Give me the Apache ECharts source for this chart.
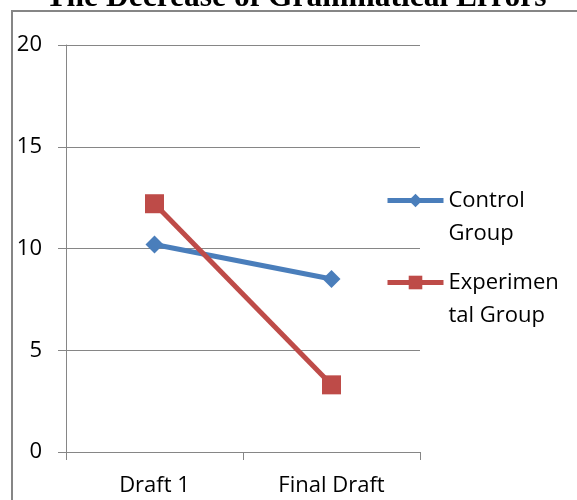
<!DOCTYPE html>
<html>
<head>
<meta charset="utf-8">
<script src="https://cdn.jsdelivr.net/npm/echarts@6/dist/echarts.min.js"></script>
<style>
html,body{margin:0;padding:0;background:#fff;}
#chart{width:577px;height:500px;}
</style>
</head>
<body>
<div id="chart"></div>
<script>
var titleText = 'The Decrease of Grammatical Errors';
var categories = ['Draft 1', 'Final Draft'];
var controlGroup = [10.2, 8.5];
var experimentalGroup = [12.2, 3.3];
var yTicks = { min: 0, max: 20, interval: 5 };
var legendLabels = { 'Control Group': ' \nControl\nGroup', 'Experimental Group': ' \nExperimen\ntal Group' };

var gray = '#868686';
var blue = '#4A7EBB';
var red = '#BE4B48';
var uiFont = '"Open Sans", sans-serif';

function legendFor(name, top) {
  return {
    data: [name],
    left: 385,
    top: top,
    padding: 0,
    itemWidth: 56,
    itemHeight: 17,
    selectedMode: false,
    lineStyle: { width: 5 },
    formatter: function (n) { return legendLabels[n]; },
    textStyle: { fontFamily: uiFont, fontSize: 22, color: '#000', lineHeight: 33 }
  };
}

var chart = echarts.init(document.getElementById('chart'), null, { renderer: 'canvas' });
chart.setOption({
  animation: false,
  backgroundColor: '#fff',
  grid: { left: 66, right: 157, top: 45, bottom: 48, containLabel: false },
  graphic: [
    { type: 'rect', shape: { x: 12, y: 11, width: 700, height: 700 }, style: { fill: 'none', stroke: gray, lineWidth: 2 }, silent: true, z: -1 },
    { type: 'text', x: 296, y: 14, style: { text: titleText, font: 'bold 31.5px "Liberation Serif", serif', fill: '#000', textAlign: 'center', textVerticalAlign: 'bottom' } }
  ],
  legend: [legendFor('Control Group', 151), legendFor('Experimental Group', 233)],
  xAxis: {
    type: 'category',
    data: categories,
    boundaryGap: true,
    axisLine: { lineStyle: { color: gray, width: 1 } },
    axisTick: { show: true, length: 8, lineStyle: { color: gray }, alignWithLabel: false },
    axisLabel: { fontFamily: uiFont, fontSize: 22, color: '#000', margin: 23 },
    splitLine: { show: false }
  },
  yAxis: {
    type: 'value',
    min: yTicks.min, max: yTicks.max, interval: yTicks.interval,
    axisLine: { show: true, lineStyle: { color: gray, width: 1 } },
    axisTick: { show: true, length: 8, lineStyle: { color: gray } },
    axisLabel: { fontFamily: uiFont, fontSize: 22, color: '#000', margin: 24 },
    splitLine: { show: true, lineStyle: { color: gray, width: 1 } }
  },
  series: [
    {
      name: 'Control Group', type: 'line', data: controlGroup,
      symbol: 'diamond', symbolSize: 18,
      lineStyle: { color: blue, width: 5 },
      itemStyle: { color: blue },
      z: 2
    },
    {
      name: 'Experimental Group', type: 'line', data: experimentalGroup,
      symbol: 'rect', symbolSize: 19,
      lineStyle: { color: red, width: 5 },
      itemStyle: { color: red },
      z: 3
    }
  ]
});
</script>
</body>
</html>
